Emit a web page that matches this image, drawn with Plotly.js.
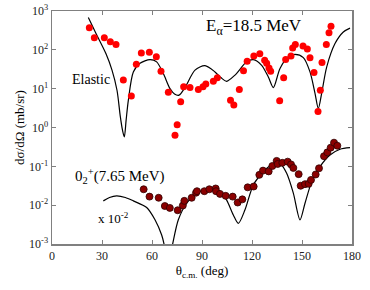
<!DOCTYPE html>
<html><head><meta charset="utf-8">
<script src="https://cdn.plot.ly/plotly-3.0.1.min.js"></script>
<style>body{margin:0;padding:0;background:#fff}#plot{width:370px;height:290px}</style>
</head><body><div id="plot"></div>
<script>
// Elastic data (deg, mb/sr)
const elAngle = [22.4,25.4,31.4,35.0,38.4,42.8,47.6,50.6,53.6,58.4,62.6,65.4,69.8,73.8,75.1,77.2,79.0,82.8,87.8,90.6,92.3,96.8,99.2,107.1,109.1,112.4,114.9,117.1,121.1,124.7,127.6,128.8,130.2,131.2,136.6,139.0,140.2,143.4,144.4,146.0,150.6,153.2,154.8,157.2,159.6,161.0,162.0,164.6,166.2,167.4];
const elValue = [372,204,204,162,138,16.6,6.5,42.7,83,87,66,28,8.1,0.63,1.17,4.6,11.2,10.7,9.5,11.2,13.2,15.5,19.1,5.0,3.8,9.5,28.8,51,69,79,54,45,34,28,4.9,19.1,56,69,112,138,126,105,63,26,2.6,9.1,47,138,275,407];
// Elastic calculation
const elCalcAngle = [21.8,26.4,32.4,36,39,41,42.3,43.4,44.5,45.8,48.8,52.8,58.8,62.8,66.8,70.8,73.5,76.2,79.8,85.8,91.8,97.8,101.5,104.8,109.8,116.8,120.8,125.8,129.8,132.8,136.8,141.8,145.8,150.8,154.8,157.8,159.8,161.8,164.8,169.8,174.8,178.8];
const elCalcValue = [676,263,79,30,9.1,1.9,0.85,0.575,1.6,5.0,27,45,56,49,24.5,10,7.3,6.8,10.7,30,39,27,19,15.5,22.4,49,56,40,20,10.7,33,66,76,63,27,7.6,3.1,7.6,36,145,288,363];
// 0_2+ data (x 10^-2)
const inAngle = [55.0,58.5,64,67.7,70.7,75.4,78.5,79.4,83.8,86.4,87,91.4,94.4,98.2,98.4,100.8,104.2,108.4,111.4,114.2,117.4,121,124.4,126.6,130,132.2,134.8,135.4,138.2,141.4,143.4,144.8,148,149.2,151.8,154,155.4,158.2,160.2,163.2,165.2,167.2,169.2,171.2];
const inValue = [0.0257,0.0166,0.0155,0.0095,0.0085,0.0074,0.0098,0.0129,0.0155,0.0209,0.0229,0.0229,0.0257,0.0269,0.0229,0.0195,0.0174,0.0166,0.0117,0.0141,0.0288,0.0302,0.0603,0.0776,0.0741,0.102,0.138,0.115,0.123,0.132,0.112,0.091,0.063,0.0316,0.0347,0.0355,0.0447,0.0617,0.089,0.182,0.229,0.302,0.407,0.339];
// 0_2+ calculation
const inCalcAngle = [30.8,34.5,38.8,44,48.8,56.8,61.8,65.8,67.5,70,72.4,75.8,80.8,86.8,94.8,100.8,104.8,108.8,111.8,115.8,120.8,126.8,131,134.8,137.5,140.8,144.8,148.8,151.8,155.8,160.8,166.8,172.8,178.8];
const inCalcValue = [0.0129,0.0158,0.0174,0.0158,0.0129,0.0087,0.0042,0.0017,0.00089,0.0003,0.001,0.0042,0.0112,0.0204,0.0263,0.0229,0.0135,0.0056,0.0034,0.0076,0.0331,0.0724,0.105,0.115,0.11,0.066,0.0204,0.0042,0.0112,0.0398,0.098,0.195,0.275,0.302];

const xTicks = [0,30,60,90,120,150,180];
const yTickVals = [1e-3,1e-2,1e-1,1,10,100,1000];
const yTickText = ['10<sup>-3</sup>','10<sup>-2</sup>','10<sup>-1</sup>','10<sup>0</sup>','10<sup>1</sup>','10<sup>2</sup>','10<sup>3</sup>'];

const serif = 'Liberation Serif, Times New Roman, serif';
const traces = [
  {x: elCalcAngle, y: elCalcValue, mode:'lines', line:{color:'#000', width:1.2, shape:'spline', smoothing:0.8}, hoverinfo:'skip'},
  {x: inCalcAngle, y: inCalcValue, mode:'lines', line:{color:'#000', width:1.2, shape:'spline', smoothing:0.8}, hoverinfo:'skip'},
  {x: elAngle, y: elValue, mode:'markers', marker:{color:'#ff0000', size:7}},
  {x: inAngle, y: inValue, mode:'markers', marker:{color:'#8b0000', size:7, line:{color:'#300000', width:0.8}}}
];
const axisCommon = {showgrid:false, zeroline:false, showline:true, linecolor:'#808080', linewidth:1.5, mirror:'ticks', ticks:'inside', ticklen:4, tickcolor:'#808080', tickfont:{family:serif, size:12, color:'#222'}};
const layout = {
  width:370, height:290, margin:{l:52, r:18, t:11, b:46},
  showlegend:false, paper_bgcolor:'#fff', plot_bgcolor:'#fff',
  xaxis: Object.assign({}, axisCommon, {range:[0,180], tickvals:xTicks, title:{text:'θ<sub>c.m.</sub> (deg)', font:{family:serif, size:13, color:'#000'}, standoff:3}}),
  yaxis: Object.assign({}, axisCommon, {type:'log', range:[-3,3], tickvals:yTickVals, ticktext:yTickText, title:{text:'dσ/dΩ (mb/sr)', font:{family:serif, size:13, color:'#000'}, standoff:1}}),
  annotations: [
    {xref:'paper', yref:'paper', x:0.673, y:0.931, xanchor:'center', yanchor:'middle', text:'E<sub>α</sub>=18.5 MeV', showarrow:false, font:{family:serif, size:17, color:'#000'}},
    {xref:'paper', yref:'paper', x:0.130, y:0.704, xanchor:'center', yanchor:'middle', text:'Elastic', showarrow:false, font:{family:serif, size:14, color:'#000'}},
    {xref:'paper', yref:'paper', x:0.225, y:0.292, xanchor:'center', yanchor:'middle', text:'0<sub>2</sub><sup>+</sup>(7.65 MeV)', showarrow:false, font:{family:serif, size:15, color:'#000'}},
    {xref:'paper', yref:'paper', x:0.205, y:0.11, xanchor:'center', yanchor:'middle', text:'x 10<sup>-2</sup>', showarrow:false, font:{family:serif, size:13, color:'#000'}}
  ]
};
Plotly.newPlot('plot', traces, layout, {displayModeBar:false, staticPlot:true});
</script></body></html>
